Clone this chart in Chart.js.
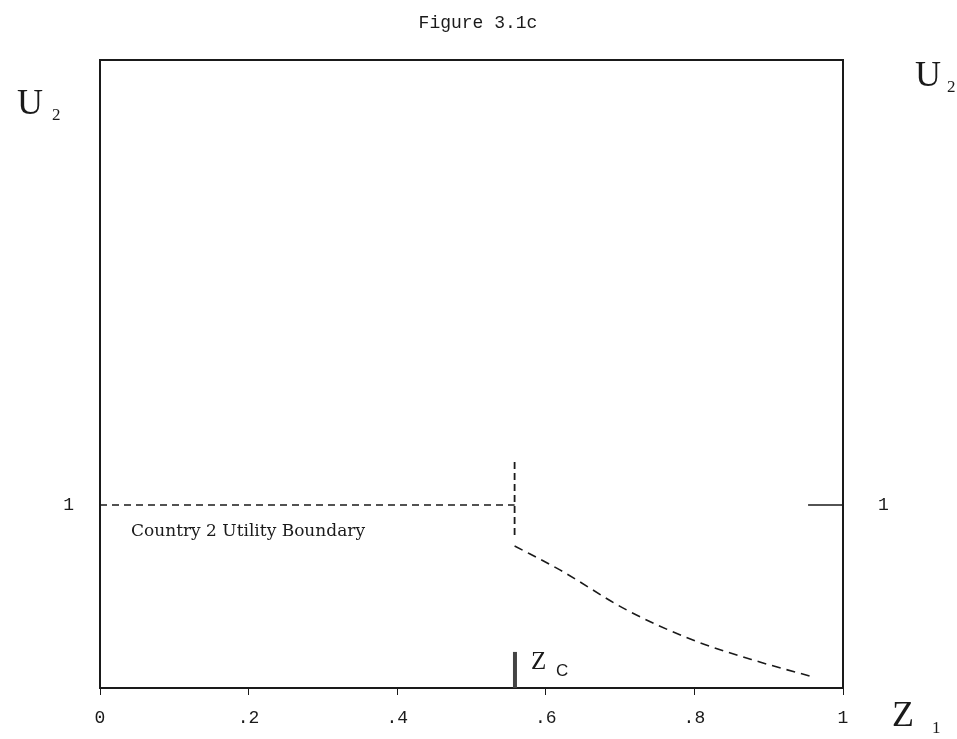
<!DOCTYPE html>
<html>
<head>
<meta charset="utf-8">
<script src="https://cdn.jsdelivr.net/npm/chart.js@4"></script>
<style>
  body { margin: 0; background: #fff; }
  canvas { display: block; }
</style>
</head>
<body>
<canvas id="chart" width="957" height="739"></canvas>
<script>
// Values
const boundaryZ = [0, 0.558];
const boundaryU = [1, 1];
const kinkZ = [0.558, 0.558];
const kinkU = [1.235, 0.814];
const curveZ = [0.558, 0.619, 0.709, 0.798, 0.888, 0.96];
const curveU = [0.776, 0.645, 0.426, 0.262, 0.142, 0.06];
const zcZ = [0.5585, 0.5585];
const zcU = [0, 0.197];
const rightTickZ = [0.953, 1];
const rightTickU = [1, 1];
const xTicks = [0, 0.2, 0.4, 0.6, 0.8, 1];
const yTicks = [1];

const toPoints = (xs, ys) => xs.map((x, i) => ({ x: x, y: ys[i] }));
const ink = '#1a1a1a';
const mono = 'Liberation Mono';

// Text that sits outside the axes
const labelsPlugin = {
    id: 'figureLabels',
    afterDraw(chart) {
        const ctx = chart.ctx;
        ctx.save();
        ctx.fillStyle = ink;
        ctx.textBaseline = 'alphabetic';

        ctx.font = '18px ' + mono;
        ctx.textAlign = 'center';
        ctx.fillText('Figure 3.1c', 478, 28);

        ctx.textAlign = 'left';
        // U2 on both sides
        ctx.font = '36px Liberation Serif';
        ctx.fillText('U', 17, 114);
        ctx.fillText('U', 915, 86);
        ctx.font = '17px Liberation Serif';
        ctx.fillText('2', 52, 120);
        ctx.fillText('2', 947, 92);

        // Z1
        ctx.font = '36px Liberation Serif';
        ctx.fillText('Z', 892, 726);
        ctx.font = '17px Liberation Serif';
        ctx.fillText('1', 932, 733);

        // Zc
        ctx.font = '25px Liberation Serif';
        ctx.fillText('Z', 531, 669);
        ctx.font = '17px Liberation Sans';
        ctx.fillText('C', 556, 676);

        ctx.font = '17px DejaVu Serif';
        ctx.fillText('Country 2 Utility Boundary', 131, 536);
        ctx.restore();
    }
};

const lineSet = (data, dash, width, color) => ({
    data: data,
    showLine: true,
    borderColor: color || ink,
    borderWidth: width || 1.5,
    borderDash: dash || [],
    pointRadius: 0,
    fill: false
});

const curveSet = lineSet(toPoints(curveZ, curveU), [9, 6], 1.6);
curveSet.cubicInterpolationMode = 'monotone';

new Chart(document.getElementById('chart'), {
    type: 'scatter',
    data: {
        datasets: [
            lineSet(toPoints(boundaryZ, boundaryU), [7, 5], 1.5),
            lineSet(toPoints(kinkZ, kinkU), [7, 4], 1.8),
            curveSet,
            lineSet(toPoints(zcZ, zcU), [], 4, '#444'),
            lineSet(toPoints(rightTickZ, rightTickU), [], 1.5)
        ]
    },
    options: {
        responsive: false,
        animation: false,
        events: [],
        layout: { padding: 0 },
        plugins: {
            legend: { display: false },
            tooltip: { enabled: false }
        },
        scales: {
            x: {
                type: 'linear',
                position: 'bottom',
                min: 0,
                max: 1,
                afterBuildTicks: s => { s.ticks = xTicks.map(v => ({ value: v })); },
                afterFit: s => { s.height = 51; },
                grid: { drawOnChartArea: false, drawTicks: true, tickLength: 7, color: ink },
                border: { color: ink, width: 2 },
                ticks: {
                    padding: 12,
                    color: ink,
                    font: { family: mono, size: 18 },
                    callback: v => (v === 0 ? '0' : v === 1 ? '1' : '.' + Math.round(v * 10))
                }
            },
            x2: {
                type: 'linear',
                position: 'top',
                min: 0,
                max: 1,
                afterFit: s => { s.height = 60; },
                grid: { drawOnChartArea: false, drawTicks: false },
                border: { color: ink, width: 2 },
                ticks: { display: false }
            },
            y: {
                type: 'linear',
                position: 'left',
                min: 0,
                max: 3.43,
                afterBuildTicks: s => { s.ticks = yTicks.map(v => ({ value: v })); },
                afterFit: s => { s.width = 100; },
                grid: { drawOnChartArea: false, drawTicks: false },
                border: { color: ink, width: 2 },
                ticks: { padding: 26, color: ink, font: { family: mono, size: 18 } }
            },
            y2: {
                type: 'linear',
                position: 'right',
                min: 0,
                max: 3.43,
                afterBuildTicks: s => { s.ticks = yTicks.map(v => ({ value: v })); },
                afterFit: s => { s.width = 114; },
                grid: { drawOnChartArea: false, drawTicks: false },
                border: { color: ink, width: 2 },
                ticks: { padding: 35, color: ink, font: { family: mono, size: 18 } }
            }
        }
    },
    plugins: [labelsPlugin]
});
</script>
</body>
</html>
